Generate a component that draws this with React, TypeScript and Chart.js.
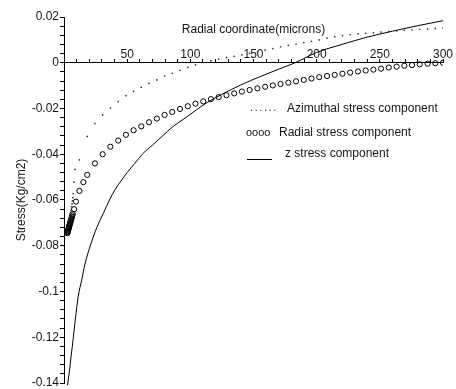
import React, { useEffect, useRef } from "react";
import { Chart, registerables } from "chart.js";

Chart.register(...registerables);

// ---- data ----
const xTitle = "Radial coordinate(microns)";
const yTitle = "Stress(Kg/cm2)";
const legendLabels = ["Azimuthal stress component", "Radial stress component", "z stress component"];

const xMin = 0;
const xMax = 300;
const xMinorStep = 10;
const xMajorStep = 50;
const yMin = -0.14;
const yMax = 0.02;
const yMinorStep = 0.004;
const yMajorStep = 0.02;

const azimuthalR = [3.0, 3.5, 4.0, 4.5, 5.0, 5.5, 6.0, 6.4, 6.7, 7.0, 7.3, 7.9, 8.7, 12.2, 18.4,
  24.5, 30.6, 36.7, 42.9, 49.0, 55.1, 61.2, 67.3, 73.5, 79.6, 85.7, 91.8, 98.0, 104.1, 110.2, 116.3,
  122.4, 128.6, 134.7, 140.8, 146.9, 153.1, 159.2, 165.3, 171.4, 177.6, 183.7, 189.8, 195.9, 202.0,
  208.2, 214.3, 220.4, 226.5, 232.7, 238.8, 244.9, 251.0, 257.1, 263.3, 269.4, 275.5, 281.6, 287.8,
  293.9, 300];
const azimuthalS = [-0.0720, -0.0705, -0.0690, -0.0675, -0.0660, -0.0645, -0.0630, -0.0617, -0.0604,
  -0.0590, -0.0572, -0.0522, -0.0466, -0.0425, -0.0322,
  -0.0266, -0.0228, -0.0198, -0.0170, -0.0144, -0.0125, -0.0107, -0.0090, -0.0075, -0.0058, -0.0046,
  -0.0033, -0.0020, -0.0009, 0.0001, 0.0009, 0.0016, 0.0022, 0.0028, 0.0034, 0.0041, 0.0048, 0.0055,
  0.0062, 0.0070, 0.0076, 0.0082, 0.0088, 0.0094, 0.0100, 0.0108, 0.0114, 0.0119, 0.0123, 0.0126,
  0.0129, 0.0131, 0.0134, 0.0137, 0.0139, 0.0142, 0.0144, 0.0146, 0.0148, 0.0150, 0.0152];

const radialR = [2.6, 2.8, 3.0, 3.2, 3.4, 3.6, 3.8, 4.0, 4.2, 4.4, 4.6, 4.8, 5.0, 5.2, 5.4, 5.7, 6.0,
  6.3, 6.6, 6.9, 8.0, 9.5, 12.2, 15.3, 18.4,
  24.5, 30.6, 36.7, 42.9, 49.0, 55.1, 61.2, 67.3, 73.5, 79.6, 85.7, 91.8, 98.0, 104.1, 110.2, 116.3,
  122.4, 128.6, 134.7, 140.8, 146.9, 153.1, 159.2, 165.3, 171.4, 177.6, 183.7, 189.8, 195.9, 202.0,
  208.2, 214.3, 220.4, 226.5, 232.7, 238.8, 244.9, 251.0, 257.1, 263.3, 269.4, 275.5, 281.6, 287.8,
  293.9, 300];
const radialS = [-0.0745, -0.0741, -0.0737, -0.0733, -0.0730, -0.0726, -0.0722, -0.0718, -0.0714,
  -0.0710, -0.0706, -0.0702, -0.0698, -0.0694, -0.0690, -0.0684, -0.0679, -0.0673, -0.0667, -0.0661,
  -0.0640, -0.0607, -0.0560, -0.0522, -0.0490,
  -0.0440, -0.0400, -0.0367, -0.0340, -0.0315, -0.0295, -0.0278, -0.0260, -0.0244, -0.0228, -0.0215,
  -0.0202, -0.0190, -0.0179, -0.0169, -0.0159, -0.0150, -0.0142, -0.0134, -0.0126, -0.0119, -0.0112,
  -0.0105, -0.0099, -0.0093, -0.0087, -0.0081, -0.0075, -0.0069, -0.0063, -0.0058, -0.0053, -0.0048,
  -0.0043, -0.0038, -0.0034, -0.0030, -0.0026, -0.0021, -0.0017, -0.0013, -0.0010, -0.0007, -0.0004,
  -0.0002, 0.0];

const zR = [2.8, 4, 5.5, 7.4, 9, 11.3, 14, 16.6, 21.4, 26, 31, 36, 40.4, 46, 50, 56, 62, 70, 78, 86,
  95, 105, 115, 125, 140, 155, 170, 183, 200, 220, 240, 260, 280, 300];
const zS = [-0.141, -0.136, -0.129, -0.120, -0.112, -0.102, -0.095, -0.088, -0.079, -0.072, -0.066,
  -0.060, -0.0555, -0.051, -0.048, -0.044, -0.040, -0.036, -0.032, -0.028, -0.0245, -0.0205, -0.0168,
  -0.0138, -0.0097, -0.0061, -0.0028, 0.0, 0.0045, 0.0080, 0.0112, 0.0138, 0.0162, 0.0184];

const FONT = "'Liberation Sans', Arial, Helvetica, sans-serif";
const TEXT = "#151515";

const toPoints = (xs: number[], ys: number[]) => xs.map((x, i) => ({ x, y: ys[i] }));

function yLabel(v: number): string {
  const k = Math.round(v / yMajorStep);
  if (Math.abs(v - k * yMajorStep) > 1e-7) return "";
  if (k === 0) return "0";
  return String(parseFloat((k * yMajorStep).toFixed(2)));
}

function xLabel(v: number): string {
  const k = Math.round(v / xMajorStep);
  if (Math.abs(v - k * xMajorStep) > 1e-7 || k === 0) return "";
  return String(k * xMajorStep);
}

function zeroPadding(s: any) {
  s.paddingTop = 0;
  s.paddingBottom = 0;
  s.paddingLeft = 0;
  s.paddingRight = 0;
}

export default function App() {
  const canvasRef = useRef<HTMLCanvasElement | null>(null);

  useEffect(() => {
    const canvas = canvasRef.current;
    if (!canvas) return;
    const chart = new Chart(canvas, {
      type: "scatter",
      data: {
        datasets: [
          {
            label: legendLabels[0],
            data: toPoints(azimuthalR, azimuthalS),
            showLine: false,
            pointRadius: 0.85,
            pointBorderWidth: 0,
            pointBackgroundColor: "#333",
            pointBorderColor: "#333",
          },
          {
            label: legendLabels[1],
            data: toPoints(radialR, radialS),
            showLine: false,
            pointRadius: 2.6,
            pointBorderWidth: 1,
            pointBorderColor: "#000",
            pointBackgroundColor: "rgba(0,0,0,0)",
          },
          {
            label: legendLabels[2],
            data: toPoints(zR, zS),
            showLine: true,
            borderColor: "#000",
            borderWidth: 1,
            pointRadius: 0,
            cubicInterpolationMode: "monotone",
            clip: false,
          },
        ],
      } as any,
      options: {
        responsive: false,
        animation: false,
        devicePixelRatio: 1,
        layout: { padding: { left: 0, top: 17, right: 13, bottom: 6 } },
        plugins: { legend: { display: false }, tooltip: { enabled: false } },
        scales: {
          x: {
            type: "linear",
            position: { y: 0 } as any,
            min: xMin,
            max: xMax,
            afterFit: (s: any) => {
              s.height = 0;
              zeroPadding(s);
            },
            border: { display: true, color: "#000", width: 1 },
            grid: {
              drawOnChartArea: false,
              drawTicks: true,
              tickLength: -4,
              tickColor: "#000",
              tickWidth: 1,
            },
            ticks: {
              stepSize: xMinorStep,
              autoSkip: false,
              maxRotation: 0,
              minRotation: 0,
              padding: -11,
              color: TEXT,
              font: { family: FONT, size: 12 },
              callback: (v: any) => xLabel(Number(v)),
            },
            title: {
              display: true,
              text: xTitle,
              color: TEXT,
              font: { family: FONT, size: 12 },
              padding: { top: 0, bottom: 26 },
            },
          },
          y: {
            type: "linear",
            position: "left",
            min: yMin,
            max: yMax,
            afterFit: (s: any) => {
              s.width = 64;
              zeroPadding(s);
            },
            border: { display: true, color: "#000", width: 1 },
            grid: {
              drawOnChartArea: false,
              drawTicks: true,
              tickLength: 4,
              tickColor: "#000",
              tickWidth: 1,
            },
            ticks: {
              stepSize: yMinorStep,
              autoSkip: false,
              padding: 1,
              color: TEXT,
              font: { family: FONT, size: 12 },
              callback: (v: any) => yLabel(Number(v)),
            },
            title: {
              display: true,
              text: yTitle,
              color: TEXT,
              font: { family: FONT, size: 12 },
              padding: { top: 14, bottom: 0 },
            },
          },
        },
      } as any,
    });
    return () => chart.destroy();
  }, []);

  const textStyle: React.CSSProperties = {
    position: "absolute",
    fontFamily: FONT,
    fontSize: 12,
    lineHeight: "14px",
    color: TEXT,
    whiteSpace: "nowrap",
  };

  return (
    <div style={{ position: "fixed", left: 0, top: 0, width: 456, height: 389, background: "#fff" }}>
      <canvas ref={canvasRef} width={456} height={389} style={{ display: "block" }} />
      <div style={{ ...textStyle, left: 250, top: 100, fontSize: 11, letterSpacing: "1.6px", color: "#444" }}>......</div>
      <div style={{ ...textStyle, left: 287, top: 101 }}>{legendLabels[0]}</div>
      <div style={{ ...textStyle, left: 246, top: 125, fontSize: 11 }}>oooo</div>
      <div style={{ ...textStyle, left: 279, top: 125 }}>{legendLabels[1]}</div>
      <div style={{ position: "absolute", left: 247, top: 159, width: 25, height: 1, background: "#000" }} />
      <div style={{ ...textStyle, left: 285, top: 146 }}>{legendLabels[2]}</div>
    </div>
  );
}
